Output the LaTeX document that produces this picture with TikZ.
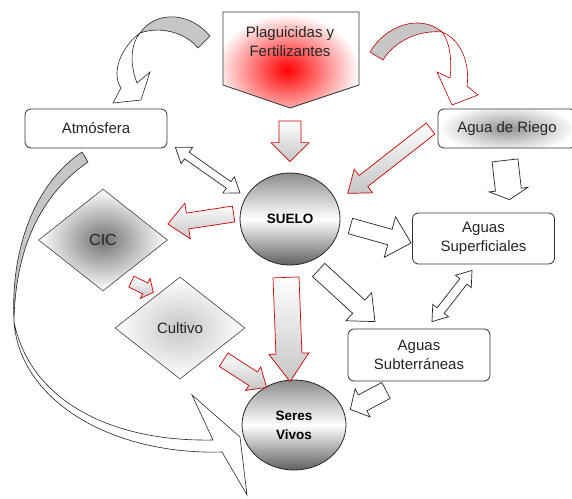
\documentclass[tikz,border=0pt]{standalone}
\usepackage{fontspec}
\setmainfont{Liberation Sans}
\usetikzlibrary{shapes.geometric,calc}

\tikzset{
  caja/.style={draw=gray!40!black, rounded corners=6pt, line width=.8pt, fill=white,
    minimum width=142pt, minimum height=39pt, align=center, text=black!85,
    font=\fontsize{15}{19}\selectfont},
  bola/.style={ellipse, draw=gray!30!black, line width=.8pt, top color=gray!90,
    bottom color=gray!75!black, middle color=white, align=center,
    font=\fontsize{13.5}{19}\selectfont\bfseries},
  rombo/.style={diamond, draw=gray!50!black, line width=.6pt, inner sep=0pt,
    text=black!85, font=\fontsize{15}{19}\selectfont},
  rojaf/.style={draw=red!80!black, line width=.7pt, top color=white, bottom color=gray!45},
  blancaf/.style={draw=gray!30!black, line width=.7pt, fill=white},
  curva/.style={draw=gray!30!black, line width=.6pt, fill=gray!45},
  curvaroja/.style={draw=red!75!black, line width=.6pt, fill=gray!45},
}

% flecha de bloque: [estilo]{desde}{hasta}{medio tallo}{media punta}{largo punta}
\newcommand{\flecha}[6][]{%
  \coordinate (ba-a) at #2;
  \coordinate (ba-b) at #3;
  \coordinate (ba-h) at ($(ba-b)!#6!(ba-a)$);
  \draw[#1] ($(ba-a)!#4!90:(ba-b)$) -- ($(ba-h)!#4!-90:(ba-a)$)
    -- ($(ba-h)!#5!-90:(ba-a)$) -- (ba-b) -- ($(ba-h)!#5!90:(ba-a)$)
    -- ($(ba-h)!#4!90:(ba-a)$) -- ($(ba-a)!#4!-90:(ba-b)$) -- cycle;
}
% flecha doble
\newcommand{\dflecha}[6][]{%
  \coordinate (ba-a) at #2;
  \coordinate (ba-b) at #3;
  \coordinate (ba-h) at ($(ba-b)!#6!(ba-a)$);
  \coordinate (ba-g) at ($(ba-a)!#6!(ba-b)$);
  \draw[#1] (ba-a) -- ($(ba-g)!#5!90:(ba-b)$) -- ($(ba-g)!#4!90:(ba-b)$)
    -- ($(ba-h)!#4!-90:(ba-a)$) -- ($(ba-h)!#5!-90:(ba-a)$) -- (ba-b)
    -- ($(ba-h)!#5!90:(ba-a)$) -- ($(ba-h)!#4!90:(ba-a)$)
    -- ($(ba-g)!#4!-90:(ba-b)$) -- ($(ba-g)!#5!-90:(ba-b)$) -- cycle;
}

\begin{document}
\begin{tikzpicture}[x=1pt,y=-1pt]
  \useasboundingbox (0,0) rectangle (572,498);

  % flechas curvas
  \draw[curva] (210,36) .. controls (190,12) and (156,10) .. (140,33)
    .. controls (160,26) and (185,32) .. (198,48) -- cycle;
  \draw[curva, fill=white] (140,33) .. controls (118,50) and (112,75) .. (121,88)
    -- (113,103) -- (141,100) -- (150,72) -- (137,83)
    .. controls (130,65) and (130,45) .. (140,33);
  \draw[curvaroja] (370,52) .. controls (385,26) and (420,13) .. (442,32)
    .. controls (420,30) and (395,40) .. (383,60) -- cycle;
  \draw[curvaroja, fill=white] (442,32) .. controls (462,40) and (470,65) .. (467,86)
    -- (478,95) -- (452,105) -- (437,72) -- (450,78)
    .. controls (452,60) and (450,42) .. (442,32);
  \draw[curva] (82,152) .. controls (40,180) and (10,240) .. (14,322)
    .. controls (15,250) and (40,195) .. (88,162) -- cycle;
  \draw[curva, fill=white] (14,322) .. controls (20,400) and (110,455) .. (222,452)
    -- (247,495) -- (240,437) -- (192,395) -- (213,440)
    .. controls (110,442) and (30,400) .. (14,322);

  % plaguicidas
  \coordinate (plagtip) at (290,108);
  \begin{scope}
    \clip (223,12) -- (359,12) -- (359,85) -- (plagtip) -- (223,85) -- cycle;
    \shade[inner color=red, outer color=white] (287,70) ellipse (72 and 56);
  \end{scope}
  \draw[draw=gray!40!black, line width=.8pt] (223,12) -- (359,12) -- (359,85)
    -- (plagtip) -- (223,85) -- cycle;
  \node[align=center, text=black!85, font=\fontsize{15}{19}\selectfont] (plag) at (290,42)
    {Plaguicidas y\\Fertilizantes};

  % nodos
  \node[caja] (atm) at (96,128.5) {Atmósfera};
  \node[caja, minimum width=138pt, path picture={\shade[inner color=gray!85,
    outer color=white] (path picture bounding box.center) ellipse (66pt and 24pt);}]
    (riego) at (507,128.5) {Agua de Riego};
  \node[caja, minimum height=51pt] (supf) at (483.5,238.5) {Aguas\\Superficiales};
  \node[caja, minimum height=52pt] (subt) at (419,355) {Aguas\\Subterráneas};
  \node[bola, minimum width=100pt, minimum height=92pt] (suelo) at (290,219) {SUELO};
  \node[bola, minimum width=104pt, minimum height=90pt] (seres) at (294,425) {Seres\\Vivos};
  \node[rombo, minimum width=129pt, minimum height=102pt, inner color=gray!90!black,
    outer color=white] (cic) at (103,240) {\fontsize{16}{19}\selectfont CIC};
  \node[rombo, minimum width=130pt, minimum height=102pt, inner color=gray!45,
    outer color=white] (cult) at (180,328) {Cultivo};

  % flechas de bloque
  \flecha[rojaf]{([shift={(0,13)}]plagtip)}{([shift={(0,-11)}]suelo.north)}{11pt}{19pt}{19pt}
  \flecha[rojaf]{([shift={(-7,0)}]riego.west)}{([shift={(15,-1)}]suelo.30)}{7pt}{15pt}{20pt}
  \dflecha[blancaf]{([shift={(8,-1)}]atm.south east)}{([shift={(-5,-5)}]suelo.155)}{4pt}{10pt}{14pt}
  \flecha[rojaf]{([shift={(-6,-5)}]suelo.west)}{([shift={(0,-16)}]cic.east)}{8pt}{18pt}{20pt}
  \flecha[rojaf]{([shift={(-4,16)}]cic.south east)}{([shift={(6,-10)}]cult.north west)}{6pt}{11pt}{9pt}
  \flecha[rojaf]{([shift={(11,6)}]cult.south east)}{([shift={(-4,3)}]seres.120)}{8pt}{14pt}{16pt}
  \flecha[rojaf]{([shift={(-4,12)}]suelo.south)}{([shift={(-4,2)}]seres.north)}{13pt}{20pt}{28pt}
  \flecha[blancaf]{([shift={(10,7)}]suelo.east)}{([shift={(-1,4.5)}]supf.west)}{8pt}{21pt}{22pt}
  \flecha[blancaf]{([shift={(5,10)}]suelo.-60)}{([shift={(-44,-7)}]subt.north)}{9pt}{19pt}{22pt}
  \flecha[blancaf]{([shift={(-2,12)}]riego.south)}{([shift={(26,-13)}]supf.north)}{13pt}{19.5pt}{10pt}
  \dflecha[blancaf]{([shift={(13,-7)}]subt.north)}{([shift={(-11.5,6)}]supf.south)}{4.5pt}{10pt}{14pt}
  \flecha[blancaf]{([shift={(-33,9)}]subt.south)}{([shift={(8,2)}]seres.20)}{9pt}{16pt}{14pt}
\end{tikzpicture}
\end{document}
